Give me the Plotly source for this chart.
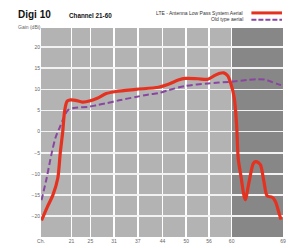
import plotly.graph_objects as go

# Tick labels along the channel axis and their positions (axis units)
tick_labels = ["Ch.", "21", "25", "31", "37", "44", "50", "56", "60", "69"]
tick_pos = [0, 31, 50, 74, 98, 123, 147, 170, 193, 245]

gain_ticks = [-20, -15, -10, -5, 0, 5, 10, 15, 20]

series_lte = "LTE - Antenna Low Pass System Aerial"
series_old = "Old type aerial"

lte_x = [0.5, 6, 12, 17, 19.5, 22, 24, 26.5, 30, 35, 42, 50, 57, 66, 76, 96, 119,
         129, 139, 146, 159, 169, 176, 181, 185, 189, 192, 195.7, 198, 199.7,
         202.3, 206.7, 210.7, 215, 217.3, 220, 222.3, 225.7, 229, 234, 237.3, 241.3, 243]
lte_y = [-21, -18, -15, -11, -5, 0, 5, 7.2, 7.5, 7.4, 7.0, 7.3, 7.9, 9.0, 9.5, 10.0, 10.5,
         11.2, 12.2, 12.6, 12.5, 12.4, 13.3, 13.8, 13.9, 13.2, 11.5, 7.9, 1.7, -6.4,
         -10.3, -16.1, -11.8, -7.5, -7.1, -7.3, -7.9, -11.8, -15.2, -15.5, -16.5, -19.5, -20.8]

old_x = [0.5, 5.7, 10.7, 15, 19, 22.5, 27, 33, 49, 57, 66, 79, 96, 109, 119, 129, 146,
         169, 192, 209, 219, 227, 232, 239, 243]
old_y = [-16.2, -11.0, -5.2, -1.2, 1.0, 3.0, 5.0, 5.6, 5.9, 6.3, 6.7, 7.4, 8.2, 8.8, 9.1, 9.8, 10.8,
         11.4, 11.8, 12.2, 12.4, 12.3, 11.9, 11.3, 11.0]

RED = "#e5311f"
PURPLE = "#8a45a0"
FONT = "Liberation Sans, Arial, sans-serif"

fig = go.Figure()
fig.add_trace(go.Scatter(x=old_x, y=old_y, mode="lines", name=series_old,
                         line=dict(color=PURPLE, width=2, dash="6px,3px", shape="spline", smoothing=0.8)))
fig.add_trace(go.Scatter(x=lte_x, y=lte_y, mode="lines", name=series_lte,
                         line=dict(color=RED, width=3.2, shape="spline", smoothing=0.8)))

# darker band beyond channel 60
fig.add_shape(type="rect", xref="x", yref="y domain", x0=tick_pos[-2], x1=tick_pos[-1], y0=0, y1=1,
              fillcolor="#878787", line=dict(width=0), layer="below")

fig.update_layout(
    width=290, height=248,
    margin=dict(l=41, r=4, t=28, b=8),
    paper_bgcolor="white", plot_bgcolor="#b3b3b3",
    showlegend=False,
    font=dict(family=FONT, size=5, color="#666666"),
    xaxis=dict(range=[tick_pos[0], tick_pos[-1]], tickvals=tick_pos, ticktext=tick_labels,
               showgrid=True, gridcolor="white", gridwidth=1.6, zeroline=False,
               showline=False, ticks="", tickfont=dict(size=5, color="#666666"), fixedrange=True),
    yaxis=dict(range=[-24.9, 24.5], tickvals=gain_ticks, showgrid=True, gridcolor="#f2f2f2",
               gridwidth=1.6, zeroline=False, showline=False, ticks="",
               tickfont=dict(size=5, color="#666666"), fixedrange=True),
)

annotations = [
    dict(text="<b>Digi 10</b>", x=16, y=14.3, font=dict(size=10, color="#111111")),
    dict(text="<b>Channel 21-60</b>", x=67.5, y=15, font=dict(size=6.3, color="#111111")),
    dict(text="Gain (dBi)", x=16, y=26.7, font=dict(size=5, color="#666666")),
]
for a in annotations:
    fig.add_annotation(text=a["text"], xref="paper", yref="paper",
                       x=(a["x"] - 41) / 245, y=(248 - 8 - a["y"]) / 212,
                       xanchor="left", yanchor="middle", showarrow=False, font=dict(family=FONT, **a["font"]))

for name, yy in [(series_lte, 12.3), (series_old, 19.2)]:
    fig.add_annotation(text=name, xref="paper", yref="paper", x=(247.5 - 41) / 245, y=(240 - yy) / 212,
                       xanchor="right", yanchor="middle", showarrow=False,
                       font=dict(family=FONT, size=5, color="#333333"))

fig.add_shape(type="line", xref="paper", yref="paper", x0=(254 - 41) / 245, x1=(285 - 41) / 245,
              y0=(240 - 12.7) / 212, y1=(240 - 12.7) / 212, line=dict(color=RED, width=3))
fig.add_shape(type="line", xref="paper", yref="paper", x0=(254 - 41) / 245, x1=(285 - 41) / 245,
              y0=(240 - 19.7) / 212, y1=(240 - 19.7) / 212, line=dict(color=PURPLE, width=2, dash="5px,2px"))

fig.write_html("out.html", config={"staticPlot": True},
               post_script="document.body.style.margin='0';document.body.style.overflow='hidden';")
